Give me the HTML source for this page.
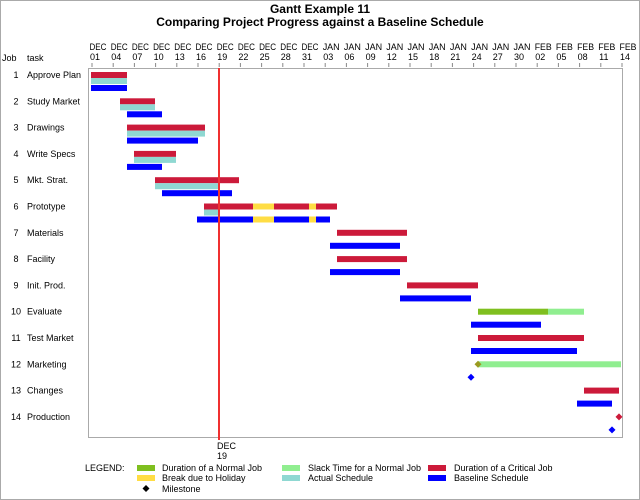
<!DOCTYPE html>
<html><head><style>body{margin:0;background:#fff}svg{display:block;font-family:"Liberation Sans",sans-serif}</style></head>
<body>
<svg width="640" height="500" viewBox="0 0 640 500">
<rect x="0.5" y="0.5" width="639" height="499" fill="#fff" stroke="#aaa"/>
<text x="320" y="13" font-size="12" font-weight="bold" text-anchor="middle">Gantt Example 11</text>
<text x="320" y="26" font-size="12" font-weight="bold" text-anchor="middle">Comparing Project Progress against a Baseline Schedule</text>
<g font-size="9" text-anchor="middle" id="tl"></g>
<text x="2" y="61" font-size="9">Job</text><text x="27" y="61" font-size="9">task</text>
<rect x="88.5" y="68.5" width="534" height="369" fill="none" stroke="#aaa"/>
<g id="bars"></g>
<line x1="219" y1="68" x2="219" y2="440" stroke="#f03030" stroke-width="2"/>
<text x="217" y="449" font-size="9">DEC</text><text x="217" y="459" font-size="9">19</text>
<g font-size="9">
<text x="85" y="471">LEGEND:</text>
<rect x="137" y="465" width="18" height="6" fill="#7fbf1f"/><text x="162" y="471">Duration of a Normal Job</text>
<rect x="282" y="465" width="18" height="6" fill="#90ee90"/><text x="308" y="471">Slack Time for a Normal Job</text>
<rect x="428" y="465" width="18" height="6" fill="#cc1a3a"/><text x="454" y="471">Duration of a Critical Job</text>
<rect x="137" y="475" width="18" height="6" fill="#ffdd44"/><text x="162" y="481">Break due to Holiday</text>
<rect x="282" y="475" width="18" height="6" fill="#8fd8d2"/><text x="308" y="481">Actual Schedule</text>
<rect x="428" y="475" width="18" height="6" fill="#0000ff"/><text x="454" y="481">Baseline Schedule</text>
<path d="M146 485l3.5 3.5-3.5 3.5-3.5-3.5z" fill="#000"/><text x="162" y="492">Milestone</text>
</g>
</svg>
<script>
var ns="http://www.w3.org/2000/svg";
function el(p,t,a,txt){var e=document.createElementNS(ns,t);for(var k in a)e.setAttribute(k,a[k]);if(txt)e.textContent=txt;p.appendChild(e);return e;}
var tl=document.getElementById('tl');
var labs=[["DEC","01"],["DEC","04"],["DEC","07"],["DEC","10"],["DEC","13"],["DEC","16"],["DEC","19"],["DEC","22"],["DEC","25"],["DEC","28"],["DEC","31"],["JAN","03"],["JAN","06"],["JAN","09"],["JAN","12"],["JAN","15"],["JAN","18"],["JAN","21"],["JAN","24"],["JAN","27"],["JAN","30"],["FEB","02"],["FEB","05"],["FEB","08"],["FEB","11"],["FEB","14"]];
labs.forEach(function(l,k){var x=91+k*21.2+1;el(tl,'text',{x:x+6,y:50,textLength:17,lengthAdjust:'spacingAndGlyphs'},l[0]);el(tl,'text',{x:x+3,y:60},l[1]);el(tl,'line',{x1:x,y1:63,x2:x,y2:67,stroke:'#888'});});
var names=["Approve Plan","Study Market","Drawings","Write Specs","Mkt. Strat.","Prototype","Materials","Facility","Init. Prod.","Evaluate","Test Market","Marketing","Changes","Production"];
var R='#cc1a3a',C='#8fd8d2',B='#0000ff',Y='#ffdd44',G='#7fbf1f',L='#90ee90';
var data=[
[[0,91,127,R],[1,91,127,C],[2,91,127,B]],
[[0,120,155,R],[1,120,155,C],[2,127,162,B]],
[[0,127,205,R],[1,127,205,C],[2,127,198,B]],
[[0,134,176,R],[1,134,176,C],[2,127,162,B]],
[[0,155,239,R],[1,155,218,C],[2,162,232,B]],
[[0,204,337,R],[0,253,274,Y],[0,309,316,Y],[1,204,218,C],[2,197,330,B],[2,253,274,Y],[2,309,316,Y]],
[[0,337,407,R],[2,330,400,B]],
[[0,337,407,R],[2,330,400,B]],
[[0,407,478,R],[2,400,471,B]],
[[0,478,548,G],[0,548,584,L],[2,471,541,B]],
[[0,478,584,R],[2,471,577,B]],
[[0,478,621,L],[-1,478,0,'#9a9a20'],[-3,471,0,B]],
[[0,584,619,R],[2,577,612,B]],
[[-1,619,0,R],[-3,612,0,B]]];
var g=document.getElementById('bars');
data.forEach(function(row,i){var y=72+i*26.3;
el(g,'text',{x:16,y:y+6,'font-size':9,'text-anchor':'middle'},String(i+1));
el(g,'text',{x:27,y:y+6,'font-size':9},names[i]);
row.forEach(function(b){
 if(b[0]<0){var cy=y+3+(b[0]==-3?13:0);el(g,'path',{d:'M'+b[1]+' '+(cy-3.5)+'l3.5 3.5-3.5 3.5-3.5-3.5z',fill:b[3]});}
 else{var yy=y+[0,6,13][b[0]];el(g,'rect',{x:b[1],y:yy,width:b[2]-b[1],height:6,fill:b[3]});}
});});
</script>
</body></html>
